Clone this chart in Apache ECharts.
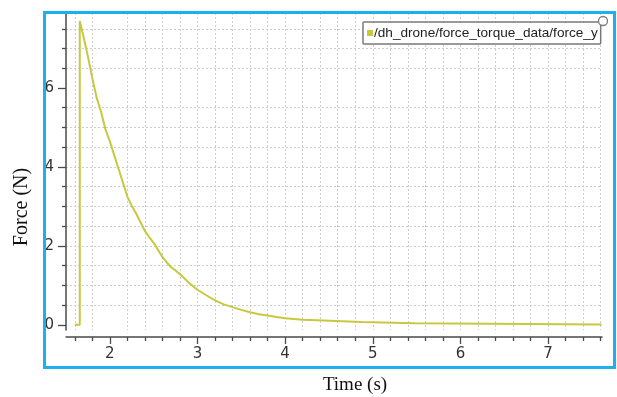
<!DOCTYPE html>
<html><head><meta charset="utf-8">
<script src="https://cdn.jsdelivr.net/npm/echarts@6/dist/echarts.min.js"></script>
<style>html,body{margin:0;padding:0;background:#fff}#c{width:617px;height:397px}</style>
</head><body><div id="c"></div>
<script>
const seriesName = '/dh_drone/force_torque_data/force_y';
const timeValues = [1.60,1.657,1.657,1.70,1.75,1.80,1.85,1.90,1.95,2.00,
  2.05,2.10,2.15,2.20,2.25,2.30,2.35,2.40,2.45,2.50,2.55,2.60,2.65,2.70,2.75,2.80,2.85,2.90,2.95,3.00,
  3.10,3.20,3.30,3.40,3.50,3.60,3.70,3.80,3.90,4.00,4.10,4.20,
  4.36,4.36,4.87,4.87,5.48,5.48,7.61];
const forceValues = [0,0,7.70,7.30,6.80,6.25,5.75,5.40,4.95,4.65,
  4.30,3.95,3.60,3.25,3.02,2.82,2.60,2.38,2.22,2.08,1.90,1.72,1.58,1.46,1.38,1.28,1.18,1.07,0.98,0.89,
  0.75,0.62,0.52,0.45,0.38,0.32,0.27,0.24,0.20,0.17,0.15,0.13,
  0.12,0.08,0.07,0.04,0.04,0.015,0.01];
const xTickValues = [2,3,4,5,6,7];
const yTickValues = [0,2,4,6];

const lineColor = '#c8c840';
const axisColor = '#4a4a4a';
const gridLine = {color:'#cdcdcd', type:[2,2], width:1};
const chart = echarts.init(document.getElementById('c'), null, {renderer:'canvas'});
const data = timeValues.map((t,i)=>[t, forceValues[i]]);
chart.setOption({
  animation:false,
  backgroundColor:'#fff',
  grid:{left:66, right:15, top:13, bottom:67, containLabel:false, outerBoundsMode:'none'},
  xAxis:{
    type:'value', min:1.5, max:7.615, position:'bottom', offset:7,
    name:'Time (s)', nameLocation:'middle', nameGap:39,
    nameTextStyle:{fontFamily:'Liberation Serif', fontSize:19, color:'#111', padding:[0,0,0,42]},
    axisLine:{show:true, onZero:false, lineStyle:{color:axisColor, width:1.5}},
    axisTick:{show:true, length:7, customValues:xTickValues, lineStyle:{color:axisColor, width:1.3}},
    minorTick:{show:true, splitNumber:5, length:4, lineStyle:{color:axisColor, width:1.3}},
    axisLabel:{customValues:xTickValues, fontFamily:'DejaVu Sans', fontSize:15, color:'#333', margin:10},
    splitLine:{show:true, showMinLine:false, showMaxLine:true, lineStyle:gridLine},
    minorSplitLine:{show:true, lineStyle:gridLine}
  },
  yAxis:{
    type:'value', min:-0.13, max:7.9, position:'left',
    name:'Force (N)', nameLocation:'middle', nameGap:34, nameRotate:90,
    nameTextStyle:{fontFamily:'Liberation Serif', fontSize:20, color:'#111', padding:[0,71,0,0]},
    axisLine:{show:true, onZero:false, lineStyle:{color:axisColor, width:1.5}},
    axisTick:{show:true, length:8, customValues:yTickValues, lineStyle:{color:axisColor, width:1.3}},
    minorTick:{show:true, splitNumber:4, length:4, lineStyle:{color:axisColor, width:1.3}},
    axisLabel:{customValues:yTickValues, fontFamily:'DejaVu Sans', fontSize:15, color:'#333', margin:12},
    splitLine:{show:true, showMinLine:false, showMaxLine:false, lineStyle:gridLine},
    minorSplitLine:{show:true, lineStyle:gridLine}
  },
  legend:{
    show:true, data:[seriesName], left:363, top:22, orient:'horizontal',
    icon:'rect', itemWidth:6, itemHeight:6, itemGap:0,
    padding:[4,3,4,4], backgroundColor:'#fff', borderColor:'#7a7a7a', borderWidth:1.5, borderRadius:1,
    textStyle:{fontFamily:'Liberation Sans', fontSize:13.6, color:'#222', padding:[0,0,0,-4]}
  },
  graphic:[
    {type:'rect', left:42, top:10, shape:{width:570, height:355}, style:{fill:'none', stroke:'#1cb0ec', lineWidth:3}, z:100, silent:true},
    {type:'circle', shape:{cx:603, cy:21, r:4.5}, style:{fill:'#fff', stroke:'#7a7a7a', lineWidth:1.3}, z:100, silent:true}
  ],
  series:[{
    name:seriesName, type:'line', data:data, showSymbol:false, symbol:'none',
    lineStyle:{color:lineColor, width:2}, itemStyle:{color:lineColor}, z:5
  }]
});
</script></body></html>
